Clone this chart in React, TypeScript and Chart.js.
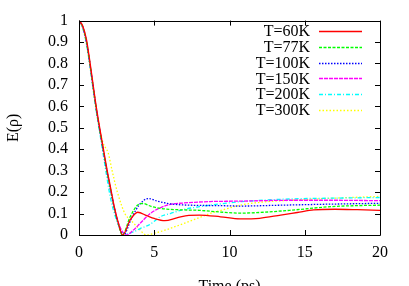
import { useEffect, useRef } from "react";
import { Chart, registerables } from "chart.js";
Chart.register(...registerables);

const seriesLabels = ["T=60K", "T=77K", "T=100K", "T=150K", "T=200K", "T=300K"];
const seriesColors = ["#ff0000", "#00ff00", "#0000ff", "#ff00ff", "#00ffff", "#ffff00"];
const seriesDashes: number[][] = [[], [3, 1.5], [1.5, 1.5], [4, 1], [4, 2, 1, 2], [1.5, 2]];

const t60 = [0, 0.25, 0.5, 0.7, 0.9, 1.1, 1.35, 1.6, 1.85, 2.1, 2.35, 2.6, 2.9, 3.4, 3.9, 4.5, 5.0, 5.7, 6.5, 7.3, 8.0, 9.4, 10.7, 12.0, 13.4, 14.5, 15.6, 17.0, 18.5, 20];
const e60 = [1, 0.975, 0.91, 0.82, 0.72, 0.62, 0.51, 0.41, 0.31, 0.22, 0.13, 0.06, 0.0, 0.07, 0.106, 0.09, 0.077, 0.067, 0.08, 0.092, 0.093, 0.085, 0.075, 0.078, 0.093, 0.105, 0.117, 0.12, 0.118, 0.115];

const t77 = [0, 0.25, 0.5, 0.7, 0.9, 1.1, 1.35, 1.6, 1.85, 2.1, 2.35, 2.6, 2.88, 3.4, 3.9, 4.25, 4.8, 5.4, 6.5, 8.0, 9.4, 10.7, 12.0, 14.0, 16.7, 18.5, 20];
const e77 = [1, 0.97, 0.9, 0.81, 0.71, 0.61, 0.5, 0.4, 0.3, 0.21, 0.125, 0.055, 0.0, 0.085, 0.14, 0.147, 0.133, 0.124, 0.118, 0.115, 0.107, 0.102, 0.105, 0.115, 0.132, 0.137, 0.139];

const t100 = [0, 0.25, 0.5, 0.7, 0.9, 1.1, 1.35, 1.6, 1.85, 2.1, 2.35, 2.6, 2.95, 3.5, 4.0, 4.6, 5.2, 6.1, 7.4, 9.4, 10.7, 13.4, 16, 20];
const e100 = [1, 0.97, 0.9, 0.81, 0.71, 0.61, 0.5, 0.4, 0.3, 0.21, 0.125, 0.055, 0.0, 0.08, 0.14, 0.17, 0.158, 0.145, 0.139, 0.137, 0.135, 0.139, 0.143, 0.148];

const t150 = [0, 0.25, 0.5, 0.7, 0.9, 1.1, 1.35, 1.6, 1.85, 2.1, 2.35, 2.65, 3.15, 3.6, 4.07, 4.73, 5.4, 6.07, 6.9, 8.7, 10.7, 14, 17, 20];
const e150 = [1, 0.97, 0.9, 0.81, 0.71, 0.61, 0.5, 0.4, 0.3, 0.21, 0.125, 0.05, 0.0, 0.022, 0.055, 0.1, 0.127, 0.143, 0.149, 0.156, 0.158, 0.162, 0.162, 0.16];

const t200 = [0, 0.25, 0.5, 0.7, 0.9, 1.1, 1.35, 1.6, 1.85, 2.1, 2.4, 2.7, 3.05, 3.6, 4.07, 4.73, 5.4, 6.07, 6.9, 8.0, 9.4, 10.7, 14, 17, 20];
const e200 = [1, 0.965, 0.89, 0.8, 0.7, 0.6, 0.49, 0.38, 0.27, 0.17, 0.09, 0.035, 0.005, 0.014, 0.03, 0.05, 0.085, 0.1, 0.118, 0.132, 0.145, 0.155, 0.168, 0.172, 0.175];

const t300 = [0, 0.25, 0.5, 0.7, 0.9, 1.1, 1.35, 1.6, 1.95, 2.2, 2.55, 3.05, 3.5, 3.9, 4.5, 5.0, 5.6, 6.3, 7.4, 8.7, 9.6, 10.7, 12.1, 14, 17, 20];
const e300 = [1, 0.965, 0.89, 0.8, 0.7, 0.6, 0.5, 0.43, 0.38, 0.3, 0.2, 0.1, 0.065, 0.035, 0.0, 0.008, 0.02, 0.037, 0.065, 0.1, 0.118, 0.139, 0.153, 0.162, 0.172, 0.18];

const seriesT = [t60, t77, t100, t150, t200, t300];
const seriesE = [e60, e77, e100, e150, e200, e300];

const xTicks = [0, 5, 10, 15, 20];
const yTicks = [0, 0.1, 0.2, 0.3, 0.4, 0.5, 0.6, 0.7, 0.8, 0.9, 1];

const FONT = "'Liberation Serif', 'Times New Roman', serif";

const framePlugin = {
  id: "frameTicks",
  afterDraw(chart: any) {
    const { ctx, chartArea } = chart;
    const { left, right, top, bottom } = chartArea;
    const xs = chart.scales.x;
    const ys = chart.scales.y;
    ctx.save();
    ctx.strokeStyle = "#000";
    ctx.lineWidth = 1;
    ctx.setLineDash([]);
    ctx.beginPath();
    ctx.rect(Math.round(left) + 0.5, Math.round(top) + 0.5, Math.round(right - left), Math.round(bottom - top));
    ctx.stroke();
    const tl = 5;
    ctx.beginPath();
    for (const v of xTicks) {
      const px = Math.round(xs.getPixelForValue(v)) + 0.5;
      ctx.moveTo(px, bottom);
      ctx.lineTo(px, bottom - tl);
      ctx.moveTo(px, top);
      ctx.lineTo(px, top + tl);
    }
    for (const v of yTicks) {
      const py = Math.round(ys.getPixelForValue(v)) + 0.5;
      ctx.moveTo(left, py);
      ctx.lineTo(left + tl, py);
      ctx.moveTo(right, py);
      ctx.lineTo(right - tl, py);
    }
    ctx.stroke();

    // key
    ctx.font = `16px ${FONT}`;
    ctx.fillStyle = "#000";
    ctx.textAlign = "right";
    ctx.textBaseline = "middle";
    chart.data.datasets.forEach((ds: any, i: number) => {
      const y = 31 + i * 15.8;
      ctx.fillText(ds.label, 310, y + 1);
      ctx.strokeStyle = ds.borderColor;
      ctx.lineWidth = ds.borderWidth;
      ctx.setLineDash(ds.borderDash || []);
      ctx.beginPath();
      ctx.moveTo(319, Math.round(y) + 0.5);
      ctx.lineTo(362, Math.round(y) + 0.5);
      ctx.stroke();
    });
    ctx.restore();
  },
};

export default function App() {
  const ref = useRef<HTMLCanvasElement>(null);
  useEffect(() => {
    document.body.style.margin = "0";
    const canvas = ref.current!;
    const datasets = seriesLabels.map((label, i) => ({
      label,
      data: seriesT[i].map((t, j) => ({ x: t, y: seriesE[i][j] })),
      borderColor: seriesColors[i],
      backgroundColor: seriesColors[i],
      borderWidth: 1.3,
      borderDash: seriesDashes[i],
      pointRadius: 0,
      fill: false,
      cubicInterpolationMode: "monotone" as const,
    }));
    const chart = new Chart(canvas, {
      type: "line",
      data: { datasets },
      options: {
        animation: false,
        responsive: false,
        devicePixelRatio: 1,
        layout: { padding: { left: 0, top: 19, right: 29, bottom: 0 } },
        plugins: { legend: { display: false }, tooltip: { enabled: false } },
        scales: {
          x: {
            type: "linear",
            min: 0,
            max: 20,
            grid: { display: false, drawTicks: false },
            border: { display: false },
            ticks: {
              stepSize: 5,
              padding: 8,
              autoSkip: false,
              color: "#000",
              font: { family: FONT, size: 16 },
              maxRotation: 0,
            },
            title: {
              display: true,
              text: "Time (ps)",
              color: "#000",
              font: { family: FONT, size: 16 },
              padding: { top: 0, bottom: -10 },
            },
            afterFit(scale: any) {
              scale.height = 51;
            },
          },
          y: {
            type: "linear",
            min: 0,
            max: 1,
            grid: { display: false, drawTicks: false },
            border: { display: false },
            ticks: {
              stepSize: 0.1,
              padding: 11,
              autoSkip: false,
              color: "#000",
              font: { family: FONT, size: 16 },
              callback: (v: any) => {
                const n = Number(v);
                if (Math.abs(n) < 1e-9) return "0";
                if (Math.abs(n - 1) < 1e-9) return "1";
                return n.toFixed(1);
              },
            },
            title: {
              display: true,
              text: "E(ρ)",
              color: "#000",
              font: { family: FONT, size: 16 },
              padding: { top: 4, bottom: 0 },
            },
            afterFit(scale: any) {
              scale.width = 79;
            },
          },
        },
      },
      plugins: [framePlugin],
    });
    return () => chart.destroy();
  }, []);
  return (
    <div style={{ position: "absolute", left: 0, top: 0 }}>
      <canvas ref={ref} width={409} height={286} style={{ display: "block", width: 409, height: 286 }} />
    </div>
  );
}
